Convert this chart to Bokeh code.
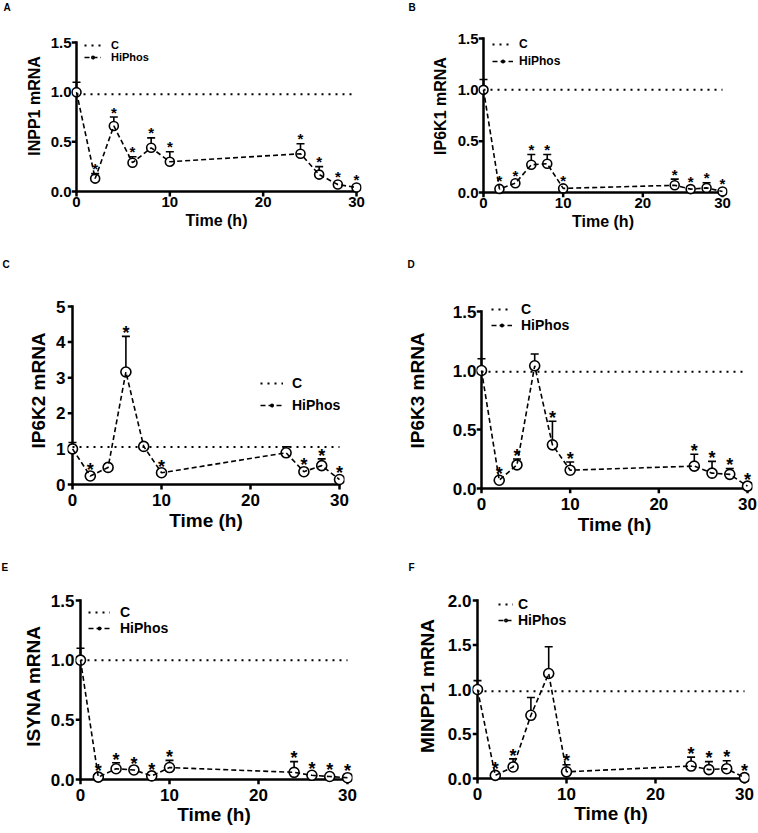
from bokeh.plotting import figure
from bokeh.layouts import column, row
from bokeh.models import (ColumnDataSource, Whisker, TeeHead, FixedTicker, Legend,
                          LegendItem, Range1d)
from bokeh.core.properties import value
from bokeh.embed import file_html
from bokeh.resources import INLINE
import math

# ---------------- data ----------------
time_h = [0, 2, 4, 6, 8, 10, 24, 26, 28, 30]
control_time = [0, 30]

inpp1_mean = [1.00, 0.13, 0.66, 0.29, 0.44, 0.30, 0.38, 0.17, 0.07, 0.04]
inpp1_err = [0.10, 0.05, 0.09, 0.06, 0.10, 0.10, 0.10, 0.08, 0.02, 0.01]
inpp1_sig = [0, 1, 1, 1, 1, 1, 1, 1, 1, 1]
inpp1_ctrl = [0.98, 0.98]

ip6k1_mean = [1.00, 0.035, 0.09, 0.27, 0.28, 0.04, 0.07, 0.033, 0.045, 0.01]
ip6k1_err = [0.10, 0.01, 0.01, 0.10, 0.09, 0.01, 0.06, 0.02, 0.05, 0.01]
ip6k1_sig = [0, 1, 1, 1, 1, 1, 1, 1, 1, 1]
ip6k1_ctrl = [1.00, 1.00]

ip6k2_mean = [1.00, 0.24, 0.48, 3.16, 1.07, 0.33, 0.89, 0.36, 0.53, 0.14]
ip6k2_err = [0.18, 0.05, 0.05, 1.00, 0.05, 0.05, 0.17, 0.05, 0.19, 0.05]
ip6k2_sig = [0, 1, 0, 1, 0, 1, 0, 1, 1, 1]
ip6k2_ctrl = [1.05, 1.05]

ip6k3_mean = [1.00, 0.07, 0.20, 1.04, 0.37, 0.155, 0.19, 0.13, 0.12, 0.02]
ip6k3_err = [0.10, 0.02, 0.05, 0.10, 0.20, 0.07, 0.10, 0.10, 0.05, 0.01]
ip6k3_sig = [0, 1, 1, 0, 1, 1, 1, 1, 1, 1]
ip6k3_ctrl = [0.99, 0.99]

isyna_mean = [1.00, 0.02, 0.09, 0.08, 0.03, 0.10, 0.06, 0.035, 0.025, 0.015]
isyna_err = [0.10, 0.01, 0.05, 0.02, 0.01, 0.06, 0.09, 0.01, 0.01, 0.01]
isyna_sig = [0, 1, 1, 1, 1, 1, 1, 1, 1, 1]
isyna_ctrl = [1.00, 1.00]

minpp1_mean = [1.00, 0.035, 0.13, 0.71, 1.18, 0.075, 0.14, 0.10, 0.11, 0.01]
minpp1_err = [0.10, 0.02, 0.09, 0.20, 0.30, 0.08, 0.10, 0.09, 0.09, 0.01]
minpp1_sig = [0, 1, 1, 0, 0, 1, 1, 1, 1, 1]
minpp1_ctrl = [0.98, 0.98]

x_ticks = [0, 10, 20, 30]
y_ticks_15 = [0, 0.5, 1.0, 1.5]
y_labels_15 = ["0.0", "0.5", "1.0", "1.5"]
y_ticks_5 = [0, 1, 2, 3, 4, 5]
y_labels_5 = ["0", "1", "2", "3", "4", "5"]
y_ticks_20 = [0, 0.5, 1.0, 1.5, 2.0]
y_labels_20 = ["0.0", "0.5", "1.0", "1.5", "2.0"]

series_labels = ["C", "HiPhos"]
x_title = "Time (h)"

FONT = "Liberation Sans"
TICK = 5      # tick length, px
LET_FS = 10   # panel letter font size, px


def fh(px):
    return 1.15 * px


# ---------------- layout (page pixel geometry) ----------------
# rows: figure top, figure height, letter text top, common frame bottom
rows_geo = [
    dict(top=0, height=241, letter_top=0, frame_bottom=197),
    dict(top=241, height=306, letter_top=257, frame_bottom=493),
    dict(top=547, height=286, letter_top=560, frame_bottom=784),
]

panels = [
    dict(letter="A", ylabel="INPP1 mRNA", mean=inpp1_mean, err=inpp1_err, sig=inpp1_sig,
         ctrl=inpp1_ctrl, yticks=y_ticks_15, ylabels=y_labels_15, ymax=1.5,
         row=0, left=0, width=379, axes=(76, 356, 42, 191), let_x=3,
         tick_fs=15, lab_fs=16, leg_fs=11, star_fs=15, mk=9,
         y_tl=0, y_al=5, x_tl=0, x_al=2,
         leg=(84, 101, 111, 45.5, 56)),
    dict(letter="B", ylabel="IP6K1 mRNA", mean=ip6k1_mean, err=ip6k1_err, sig=ip6k1_sig,
         ctrl=ip6k1_ctrl, yticks=y_ticks_15, ylabels=y_labels_15, ymax=1.5,
         row=0, left=379, width=379, axes=(483, 722, 38, 192), let_x=408,
         tick_fs=15, lab_fs=16, leg_fs=12, star_fs=15, mk=9,
         y_tl=0, y_al=6, x_tl=0, x_al=2,
         leg=(492, 513, 519, 44, 61)),
    dict(letter="C", ylabel="IP6K2 mRNA", mean=ip6k2_mean, err=ip6k2_err, sig=ip6k2_sig,
         ctrl=ip6k2_ctrl, yticks=y_ticks_5, ylabels=y_labels_5, ymax=5.0,
         row=1, left=0, width=379, axes=(72, 339, 306, 484), let_x=2,
         tick_fs=17, lab_fs=19, leg_fs=14, star_fs=18, mk=10,
         y_tl=2, y_al=4, x_tl=4, x_al=1,
         leg=(260, 283, 292, 383, 405)),
    dict(letter="D", ylabel="IP6K3 mRNA", mean=ip6k3_mean, err=ip6k3_err, sig=ip6k3_sig,
         ctrl=ip6k3_ctrl, yticks=y_ticks_15, ylabels=y_labels_15, ymax=1.5,
         row=1, left=379, width=379, axes=(481, 747, 311, 488), let_x=407,
         tick_fs=17, lab_fs=19, leg_fs=14, star_fs=18, mk=10,
         y_tl=0, y_al=22, x_tl=4, x_al=1,
         leg=(491, 512, 521, 309.5, 325)),
    dict(letter="E", ylabel="ISYNA mRNA", mean=isyna_mean, err=isyna_err, sig=isyna_sig,
         ctrl=isyna_ctrl, yticks=y_ticks_15, ylabels=y_labels_15, ymax=1.5,
         row=2, left=0, width=379, axes=(80, 347, 600, 779), let_x=1,
         tick_fs=17, lab_fs=19, leg_fs=14, star_fs=18, mk=10,
         y_tl=1, y_al=4, x_tl=4, x_al=0,
         leg=(88, 110, 120, 612, 628.5)),
    dict(letter="F", ylabel="MINPP1 mRNA", mean=minpp1_mean, err=minpp1_err, sig=minpp1_sig,
         ctrl=minpp1_ctrl, yticks=y_ticks_20, ylabels=y_labels_20, ymax=2.0,
         row=2, left=379, width=379, axes=(477, 744, 600, 778), let_x=408,
         tick_fs=17, lab_fs=19, leg_fs=14, star_fs=18, mk=10,
         y_tl=1, y_al=7, x_tl=4, x_al=0,
         leg=(498, 513, 518, 606.5, 618)),
]


def build(c):
    rg = rows_geo[c["row"]]
    ft, fht = rg["top"], rg["height"]
    fl, fw = c["left"], c["width"]
    x0, x30, ytop, y0 = c["axes"]
    ymax = c["ymax"]
    yt = c["yticks"]

    # title (panel letter) fills the top border exactly
    t_standoff = 2 * (rg["letter_top"] - ft)
    t_size = 2 + fh(LET_FS) + t_standoff
    mb_top = int(math.ceil(t_size))
    frame_top = ft + mb_top
    frame_bottom = rg["frame_bottom"]
    frame_left = x0 - TICK
    frame_right = x30 + TICK
    sx = (x30 - x0) / 30.0
    sy = (y0 - ytop) / ymax

    p = figure(width=fw, height=fht,
               x_range=Range1d(-TICK / sx, 30 + TICK / sx),
               y_range=Range1d(-(frame_bottom - y0) / sy, ymax + (ytop - frame_top) / sy),
               output_backend="svg", toolbar_location=None,
               min_border_left=int(round(frame_left - fl)),
               min_border_right=int(round(fl + fw - frame_right)),
               min_border_top=mb_top,
               min_border_bottom=int(round(ft + fht - frame_bottom)))
    p.outline_line_color = None
    p.xgrid.visible = False
    p.ygrid.visible = False
    p.background_fill_color = "white"
    p.border_fill_color = "white"

    p.title.text = c["letter"]
    p.title.align = "left"
    p.title.vertical_align = "top"
    p.title.offset = c["let_x"] - frame_left
    p.title.standoff = t_standoff
    p.title.text_font = FONT
    p.title.text_font_style = "bold"
    p.title.text_font_size = f"{LET_FS}px"
    p.title.text_color = "black"

    xa = p.xaxis[0]
    ya = p.yaxis[0]
    for ax in (xa, ya):
        ax.axis_line_color = None
        ax.major_tick_line_color = None
        ax.major_tick_out = 0
        ax.major_tick_in = 0
        ax.minor_tick_line_color = None
        ax.major_label_text_font = FONT
        ax.major_label_text_font_style = "bold"
        ax.major_label_text_font_size = f"{c['tick_fs']}px"
        ax.major_label_text_color = "black"
        ax.axis_label_text_font = FONT
        ax.axis_label_text_font_style = "bold"
        ax.axis_label_text_font_size = f"{c['lab_fs']}px"
        ax.axis_label_text_color = "black"
    xa.ticker = FixedTicker(ticks=x_ticks)
    xa.bounds = (x_ticks[0], x_ticks[-1])
    xa.axis_label = x_title
    xa.major_label_standoff = int(round(y0 + TICK + c["x_tl"] - frame_bottom))
    xa.axis_label_standoff = c["x_al"]
    ya.ticker = FixedTicker(ticks=yt)
    ya.major_label_overrides = {t: l for t, l in zip(yt, c["ylabels"])}
    ya.bounds = (yt[0], yt[-1])
    ya.axis_label = c["ylabel"]
    ya.major_label_standoff = c["y_tl"]
    ya.axis_label_standoff = c["y_al"]

    # axis lines through the origin and outward ticks (derived from the tick arrays)
    p.line([x_ticks[0], x_ticks[0]], [yt[0], yt[-1]], line_color="black",
           line_width=2.5, line_cap="square")
    p.line([x_ticks[0], x_ticks[-1]], [yt[0], yt[0]], line_color="black",
           line_width=2.5, line_cap="square")
    p.segment(x0=x_ticks, y0=[yt[0]] * len(x_ticks), x1=x_ticks,
              y1=[yt[0] - TICK / sy] * len(x_ticks), line_color="black", line_width=2.5)
    p.segment(x0=[x_ticks[0]] * len(yt), y0=yt, x1=[x_ticks[0] - TICK / sx] * len(yt),
              y1=yt, line_color="black", line_width=2.5)

    mean, err, sig = c["mean"], c["err"], c["sig"]
    min_gap = 3.0 / sy
    src = ColumnDataSource(dict(
        t=time_h, m=mean,
        up=[m + e for m, e in zip(mean, err)],
        sy=[m + max(e, min_gap) for m, e in zip(mean, err)],
        star=["*" if s else "" for s in sig],
    ))

    wh = Whisker(source=src, base="t", lower="m", upper="up", dimension="height",
                 line_color="black", line_width=1.6,
                 upper_head=TeeHead(size=8, line_color="black", line_width=1.6),
                 lower_head=None)
    p.add_layout(wh)

    circ = p.scatter("t", "m", source=src, marker="circle", size=c["mk"],
                     fill_color="white", line_color="black", line_width=1.6)
    ln = p.line("t", "m", source=src, line_color="black", line_width=1.6,
                line_dash="5 3")
    ctrl = p.line(control_time, c["ctrl"], line_color="black", line_width=2,
                  line_dash="2 5")
    p.text("t", "sy", text="star", source=src, text_font=value(FONT),
           text_font_size=f"{c['star_fs']}px", text_font_style="bold",
           text_align="center", text_baseline="alphabetic",
           y_offset=0.57 * c["star_fs"] - 13.5, text_color="black")

    s_left, s_right, t_left, r1, r2 = c["leg"]
    R = fh(c["leg_fs"])
    spacing = max(0, int(round((r2 - r1) - R)))
    leg_h = 2 * R + spacing
    top = (r1 + r2) / 2 - leg_h / 2
    vx = s_left - frame_left
    vy = frame_bottom - top - leg_h
    leg = Legend(items=[LegendItem(label=series_labels[0], renderers=[ctrl]),
                        LegendItem(label=series_labels[1], renderers=[circ, ln])],
                 location=(vx, vy), padding=0, margin=0, spacing=spacing,
                 glyph_width=int(s_right - s_left), glyph_height=6, label_height=6,
                 label_standoff=int(t_left - s_right),
                 label_text_font=FONT, label_text_font_style="bold",
                 label_text_font_size=f"{c['leg_fs']}px", label_text_color="black",
                 border_line_color=None, background_fill_alpha=0)
    p.add_layout(leg)
    return p


figs = [build(c) for c in panels]
layout = column(row(figs[0], figs[1]), row(figs[2], figs[3]), row(figs[4], figs[5]))

with open("out.html", "w") as f:
    f.write(file_html(layout, INLINE, title="mRNA time course"))
